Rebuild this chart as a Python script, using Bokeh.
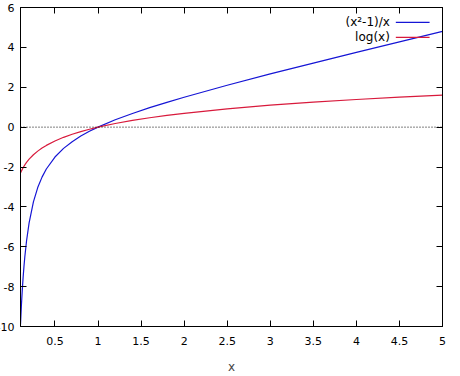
from bokeh.plotting import figure
from bokeh.models import Range1d, FixedTicker, LinearAxis, Span, Label, CustomJSTickFormatter, ColumnDataSource
from bokeh.embed import file_html
from bokeh.resources import INLINE

xs = [0.1, 0.11, 0.12, 0.13, 0.14, 0.15, 0.17, 0.2, 0.25, 0.3, 0.35, 0.4, 0.5, 0.6, 0.7, 0.8, 0.9,
      1.0, 1.2, 1.4, 1.6, 1.8, 2.0, 2.5, 3.0, 3.5, 4.0, 4.5, 5.0]
y_ratio = [-9.9, -8.981, -8.213, -7.562, -7.003, -6.517, -5.712, -4.8, -3.75, -3.033, -2.507, -2.1,
           -1.5, -1.067, -0.729, -0.45, -0.211, 0.0, 0.367, 0.686, 0.975, 1.244, 1.5, 2.1, 2.667,
           3.214, 3.75, 4.278, 4.8]
y_log = [-2.303, -2.207, -2.12, -2.04, -1.966, -1.897, -1.772, -1.609, -1.386, -1.204, -1.05, -0.916,
         -0.693, -0.511, -0.357, -0.223, -0.105, 0.0, 0.182, 0.336, 0.47, 0.588, 0.693, 0.916, 1.099,
         1.253, 1.386, 1.504, 1.609]
x_ticks = [0.5, 1, 1.5, 2, 2.5, 3, 3.5, 4, 4.5, 5]
y_ticks = [-10, -8, -6, -4, -2, 0, 2, 4, 6]
series_labels = ["(x\u00b2-1)/x", "log(x)"]
series_colors = ["#1515d5", "#d81a3c"]
key_y = [5.25, 4.5]

FONT = "DejaVu Sans"
SHIFT = 7

p = figure(width=460 + SHIFT, height=376, output_backend="svg", toolbar_location=None,
           x_range=Range1d(0.1, 5), y_range=Range1d(-10, 6),
           min_border_left=0, min_border_right=18, min_border_top=7, min_border_bottom=0,
           x_axis_label="x")
p.styles = {"margin-left": f"-{SHIFT}px"}
p.grid.visible = False
p.outline_line_color = "black"
p.outline_line_alpha = 1
p.background_fill_color = "white"
p.border_fill_color = "white"

fmt = CustomJSTickFormatter(code="return tick.toString();")
blank = CustomJSTickFormatter(code="return '';")

def style_axis(ax, ticks, show_labels):
    ax.ticker = FixedTicker(ticks=ticks)
    ax.formatter = fmt if show_labels else blank
    ax.major_tick_in = 6
    ax.major_tick_out = 0
    ax.minor_tick_in = 0
    ax.minor_tick_out = 0
    ax.axis_line_color = "black"
    ax.major_tick_line_color = "black"
    ax.major_label_text_font = FONT
    ax.major_label_text_font_size = "11px"
    ax.major_label_text_color = "black"

style_axis(p.xaxis[0], x_ticks, True)
style_axis(p.yaxis[0], y_ticks, True)
p.xaxis[0].major_label_standoff = 10
p.yaxis[0].major_label_standoff = 6
p.xaxis[0].axis_label_text_font = FONT
p.xaxis[0].axis_label_text_font_size = "12px"
p.xaxis[0].axis_label_text_font_style = "normal"
p.xaxis[0].axis_label_standoff = 12

top = LinearAxis()
style_axis(top, x_ticks, False)
top.major_label_standoff = 0
right = LinearAxis()
style_axis(right, y_ticks, False)
right.major_label_standoff = 0
p.add_layout(top, "above")
p.add_layout(right, "right")

p.add_layout(Span(location=0, dimension="width", line_color="black", line_width=1, line_dash="1 2"))

src = ColumnDataSource(dict(x=xs, r=y_ratio, l=y_log))
p.line("x", "r", source=src, line_color=series_colors[0], line_width=1.2)
p.line("x", "l", source=src, line_color=series_colors[1], line_width=1.2)

# key (gnuplot style: label right-aligned, sample line to the right)
for lab, yy in zip(series_labels, key_y):
    p.add_layout(Label(x=4.389, y=yy, text=lab, text_align="right", text_baseline="middle",
                       text_font=FONT, text_font_size="12px", text_color="black"))
p.segment(x0=[4.458, 4.458], x1=[4.85, 4.85], y0=key_y, y1=key_y,
          line_color=series_colors, line_width=1.2)

open("out.html", "w").write(file_html(p, INLINE))
